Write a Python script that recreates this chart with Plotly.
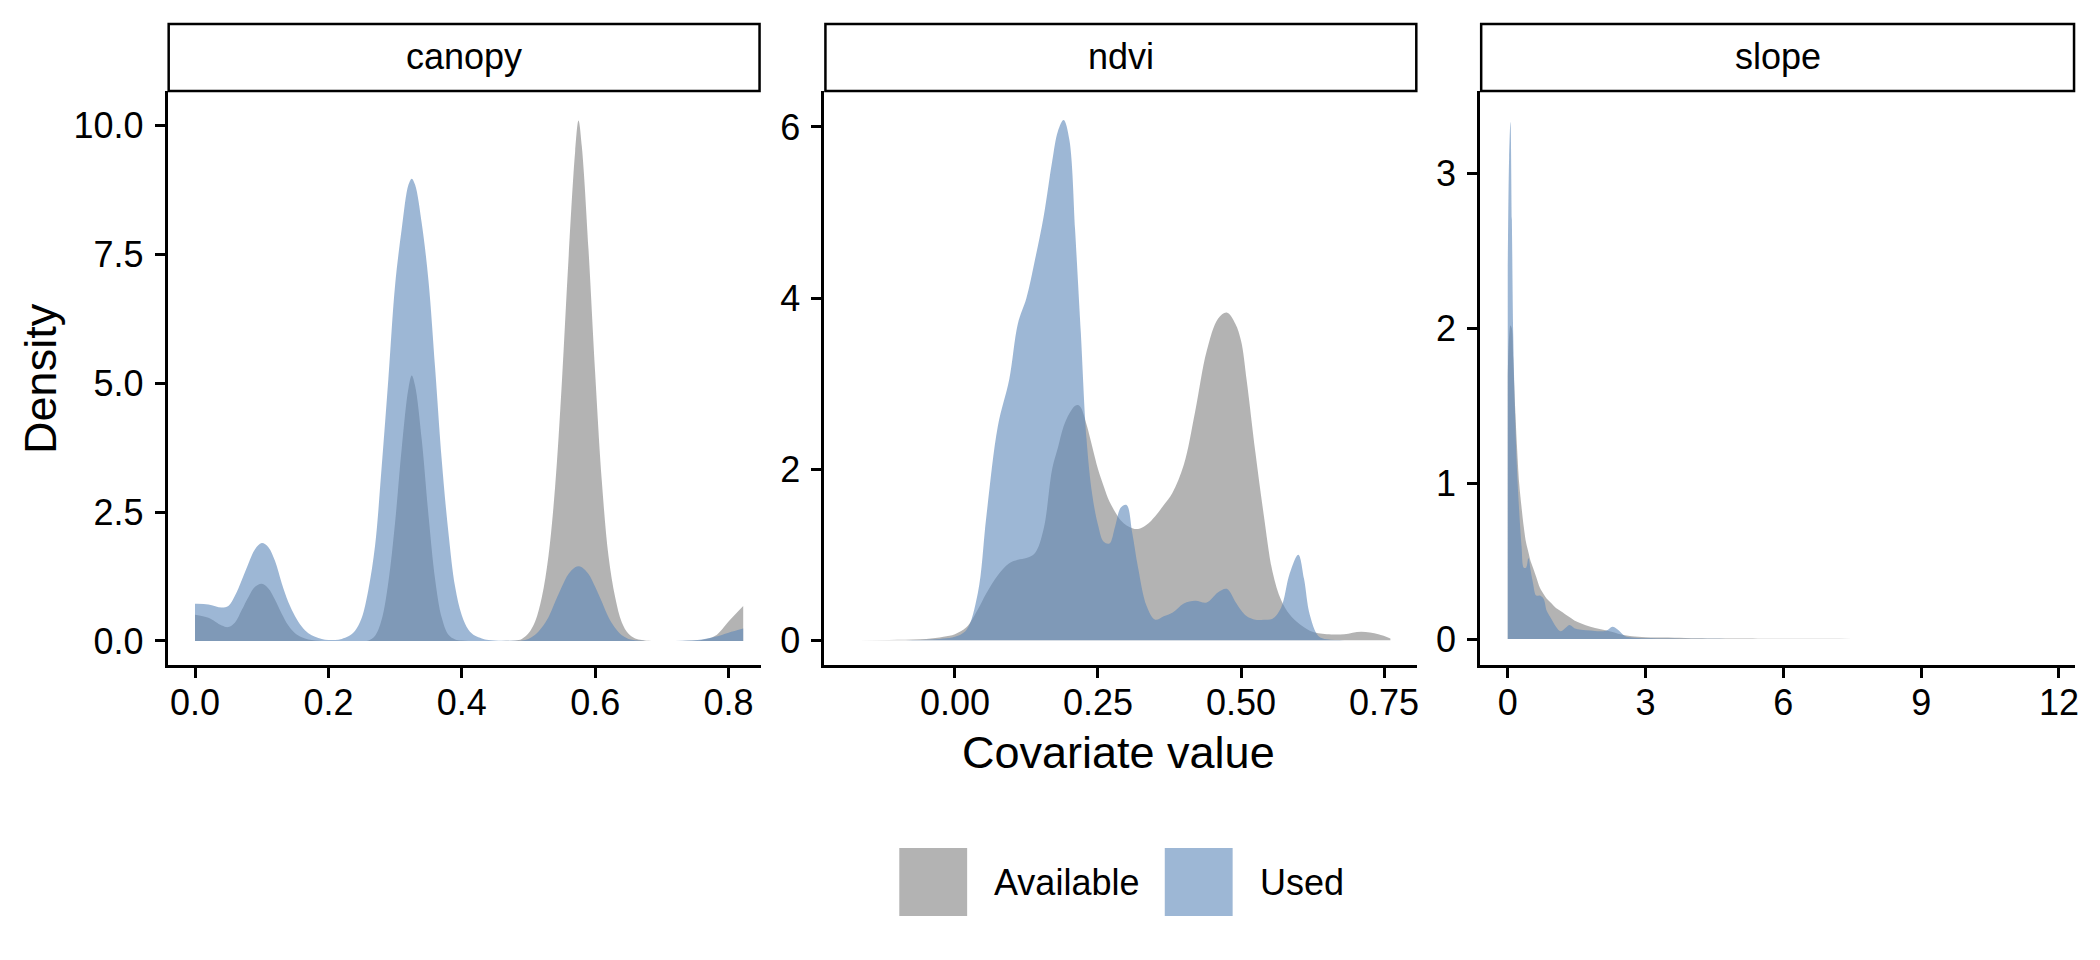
import plotly.graph_objects as go
from plotly.subplots import make_subplots

# density curves (x grid shared per panel)
canopy_x = [0, 0.02, 0.04, 0.05, 0.06, 0.07, 0.08, 0.09,
            0.10, 0.11, 0.12, 0.13, 0.14, 0.15, 0.16, 0.17, 0.18, 0.19, 0.20, 0.21, 0.22, 0.23, 0.24,
            0.25, 0.26, 0.27, 0.28, 0.29, 0.30, 0.31, 0.32, 0.325,
            0.33, 0.34, 0.35, 0.36, 0.37, 0.38, 0.39, 0.40, 0.41, 0.42, 0.43, 0.44, 0.46, 0.48,
            0.49, 0.50, 0.51, 0.52, 0.53, 0.54, 0.55, 0.56, 0.57, 0.575,
            0.58, 0.59, 0.60, 0.61, 0.62, 0.63, 0.64, 0.65, 0.66, 0.67, 0.68,
            0.70, 0.72, 0.74, 0.76, 0.78, 0.80, 0.822]
canopy_available = [0.51, 0.45, 0.30, 0.27, 0.36, 0.60, 0.85, 1.05,
                    1.11, 1.02, 0.80, 0.53, 0.30, 0.15, 0.07, 0.03, 0.01, 0.0, 0.0, 0.0, 0.0, 0.0, 0.0,
                    0.0, 0.01, 0.10, 0.42, 1.15, 2.3, 3.75, 4.9, 5.15,
                    4.95, 3.9, 2.45, 1.2, 0.45, 0.12, 0.03, 0.01, 0.0, 0.0, 0.0, 0.0, 0.0, 0.01,
                    0.04, 0.15, 0.38, 0.85, 1.65, 3.0, 5.0, 7.4, 9.5, 10.1,
                    9.6, 7.6, 5.2, 3.1, 1.65, 0.85, 0.36, 0.14, 0.05, 0.02, 0.005,
                    0.0, 0.0, 0.005, 0.02, 0.10, 0.38, 0.68]
canopy_used = [0.72, 0.71, 0.65, 0.68, 0.88, 1.18, 1.5, 1.78,
               1.9, 1.82, 1.55, 1.12, 0.75, 0.48, 0.28, 0.15, 0.08, 0.04, 0.02, 0.02, 0.04, 0.09, 0.2,
               0.45, 1.0, 1.85, 3.4, 5.1, 6.9, 8.0, 8.85, 8.97,
               8.85, 8.1, 7.0, 5.3, 3.5, 2.1, 1.05, 0.5, 0.22, 0.1, 0.05, 0.02, 0.005, 0.005,
               0.01, 0.04, 0.12, 0.26, 0.46, 0.76, 1.05, 1.3, 1.43, 1.45,
               1.43, 1.3, 1.05, 0.76, 0.46, 0.25, 0.11, 0.04, 0.015, 0.005, 0.0,
               0.0, 0.002, 0.01, 0.03, 0.08, 0.16, 0.24]

ndvi_x = [-0.182, -0.10, -0.05, -0.02, 0.0, 0.02, 0.04, 0.055, 0.075, 0.095, 0.11, 0.125, 0.14,
          0.155, 0.17, 0.18, 0.19, 0.20, 0.21, 0.215, 0.22, 0.23, 0.24, 0.25, 0.26, 0.27, 0.28,
          0.29, 0.30, 0.31, 0.32, 0.335, 0.35, 0.365, 0.38, 0.40, 0.42, 0.44, 0.46, 0.475, 0.49,
          0.50, 0.51, 0.525, 0.54, 0.555, 0.57, 0.585, 0.60, 0.61, 0.62, 0.635, 0.65, 0.68,
          0.71, 0.74, 0.761]
ndvi_available = [0.0, 0.005, 0.015, 0.04, 0.07, 0.15, 0.36, 0.55, 0.76, 0.9, 0.94, 0.96, 1.02,
                  1.3, 2.0, 2.25, 2.5, 2.65, 2.74, 2.75, 2.72, 2.52, 2.26, 2.0, 1.8, 1.62, 1.5,
                  1.4, 1.34, 1.31, 1.30, 1.35, 1.45, 1.58, 1.72, 2.05, 2.68, 3.38, 3.76, 3.83, 3.7,
                  3.5, 3.03, 2.2, 1.45, 0.8, 0.47, 0.3, 0.2, 0.15, 0.11, 0.08, 0.07, 0.07,
                  0.1, 0.07, 0.02]
ndvi_used = [0.0, 0.0, 0.005, 0.02, 0.04, 0.12, 0.55, 1.45, 2.5, 3.05, 3.7, 4.0, 4.45,
             4.95, 5.6, 5.95, 6.08, 5.85, 4.8, 4.2, 3.6, 2.35, 1.7, 1.35, 1.15, 1.13, 1.33,
             1.55, 1.58, 1.25, 0.85, 0.4, 0.24, 0.28, 0.32, 0.43, 0.46, 0.44, 0.56, 0.6, 0.45,
             0.35, 0.28, 0.24, 0.24, 0.25, 0.38, 0.78, 1.0, 0.72, 0.3, 0.05, 0.01, 0.0,
             0.0, 0.0, 0.0]

slope_x = [0, 0.03, 0.06, 0.09, 0.12, 0.16, 0.2, 0.25, 0.3, 0.35, 0.4, 0.45, 0.5, 0.55, 0.62,
           0.7, 0.78, 0.85, 0.95, 1.05, 1.15, 1.25, 1.35, 1.45, 1.6, 1.8, 2.0, 2.15, 2.28, 2.4,
           2.55, 2.7, 3.0, 3.5, 4.0, 5.0, 6.0, 8.0, 10.0, 11.77]
slope_available = [1.7, 1.95, 2.02, 2.0, 1.8, 1.5, 1.25, 1.0, 0.85, 0.72, 0.62, 0.56, 0.5, 0.46, 0.4,
                   0.33, 0.29, 0.26, 0.23, 0.2, 0.18, 0.16, 0.14, 0.12, 0.1, 0.08, 0.065, 0.055, 0.045, 0.035,
                   0.025, 0.018, 0.012, 0.01, 0.006, 0.004, 0.002, 0.001, 0.0005, 0.0]
slope_used = [2.4, 3.1, 3.33, 2.7, 1.95, 1.45, 1.1, 0.82, 0.6, 0.46, 0.46, 0.52, 0.44, 0.36, 0.28,
              0.28, 0.26, 0.18, 0.13, 0.08, 0.05, 0.07, 0.09, 0.07, 0.06, 0.055, 0.05, 0.055, 0.08, 0.06,
              0.02, 0.01, 0.005, 0.004, 0.002, 0.001, 0.0, 0.0, 0.0, 0.0]

panels = ["canopy", "ndvi", "slope"]
x_ticks = [[0, 0.2, 0.4, 0.6, 0.8], [0, 0.25, 0.5, 0.75], [0, 3, 6, 9, 12]]
x_labels = [["0.0", "0.2", "0.4", "0.6", "0.8"], ["0.00", "0.25", "0.50", "0.75"],
            ["0", "3", "6", "9", "12"]]
y_ticks = [[0, 2.5, 5, 7.5, 10], [0, 2, 4, 6], [0, 1, 2, 3]]
y_labels = [["0.0", "2.5", "5.0", "7.5", "10.0"], ["0", "2", "4", "6"], ["0", "1", "2", "3"]]
groups = ["Available", "Used"]

W, H = 2100, 960
FONT = "Liberation Sans, Arial, sans-serif"
fills = {"Available": "rgba(128,128,128,0.6)", "Used": "rgba(92,135,185,0.6)"}

xdom = [(168, 762), (826, 1420), (1483, 2079)]
ydom = (91, 665)
x_rng = [[-0.041, 0.848], [-0.228, 0.808], [-0.6, 12.35]]
y_rng = [[-0.466, 10.67], [-0.29, 6.42], [-0.167, 3.53]]

data = {
    "canopy": (canopy_x, canopy_available, canopy_used),
    "ndvi": (ndvi_x, ndvi_available, ndvi_used),
    "slope": (slope_x, slope_available, slope_used),
}

fig = make_subplots(rows=1, cols=3)

for i, p in enumerate(panels):
    xs, avail, used = data[p]
    for g, ys in zip(groups, [avail, used]):
        fig.add_trace(go.Scatter(x=xs, y=ys, mode="lines", fill="tozeroy",
                                 line=dict(width=0, shape="spline", smoothing=1.0),
                                 fillcolor=fills[g], name=g, showlegend=False,
                                 hoverinfo="x+y+name"), row=1, col=i + 1)

axis_style = dict(showline=True, linecolor="black", linewidth=3, ticks="outside",
                  ticklen=10, tickwidth=3, tickcolor="black", showgrid=False, zeroline=False,
                  tickfont=dict(family=FONT, size=36, color="black"))

for i, p in enumerate(panels):
    n = "" if i == 0 else str(i + 1)
    fig.layout["xaxis" + n].update(domain=[xdom[i][0] / W, xdom[i][1] / W], range=x_rng[i],
                                   tickvals=x_ticks[i], ticktext=x_labels[i],
                                   ticklabelstandoff=-6, **axis_style)
    fig.layout["yaxis" + n].update(domain=[1 - ydom[1] / H, 1 - ydom[0] / H], range=y_rng[i],
                                   tickvals=y_ticks[i], ticktext=y_labels[i],
                                   ticklabelstandoff=4, **axis_style)
    # facet strip
    fig.add_shape(type="rect", xref="paper", yref="paper",
                  x0=(xdom[i][0] + 1) / W, x1=(xdom[i][1] - 1) / W,
                  y0=1 - 91 / H, y1=1 - 24 / H,
                  line=dict(color="black", width=2.5), fillcolor="white")
    fig.add_annotation(text=p, xref="paper", yref="paper", x=(xdom[i][0] + xdom[i][1]) / 2 / W,
                       y=1 - 57 / H, showarrow=False, xanchor="center", yanchor="middle",
                       font=dict(family=FONT, size=36, color="black"))

# axis titles
fig.add_annotation(text="Density", xref="paper", yref="paper", x=40 / W, y=1 - 378 / H,
                   textangle=-90, showarrow=False, xanchor="center", yanchor="middle",
                   font=dict(family=FONT, size=45, color="black"))
fig.add_annotation(text="Covariate value", xref="paper", yref="paper", x=1121 / W, y=1 - 752 / H,
                   showarrow=False, xanchor="center", yanchor="middle",
                   font=dict(family=FONT, size=45, color="black"))

# legend drawn by hand so the keys match the big ggplot squares
legend_keys = [(901, 969, 994), (1167, 1235, 1260)]
for g, (k0, k1, tx) in zip(groups, legend_keys):
    fig.add_shape(type="rect", xref="paper", yref="paper", x0=k0 / W, x1=k1 / W,
                  y0=1 - 916 / H, y1=1 - 848 / H, line=dict(width=0), fillcolor=fills[g])
    fig.add_annotation(text=g, xref="paper", yref="paper", x=tx / W, y=1 - 882 / H,
                       showarrow=False, xanchor="left", yanchor="middle",
                       font=dict(family=FONT, size=36, color="black"))

fig.update_layout(width=W, height=H, margin=dict(l=0, r=0, t=0, b=0),
                  plot_bgcolor="white", paper_bgcolor="white", showlegend=False)

fig.write_html("out.html", config={"displayModeBar": False},
               post_script="document.body.style.margin='0px';")
